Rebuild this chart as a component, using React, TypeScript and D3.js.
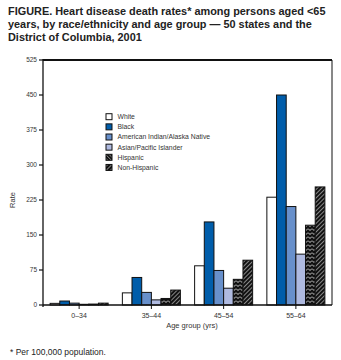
import React from "react";
import * as d3 from "d3";

const categories = ["0–34", "35–44", "45–54", "55–64"];
const seriesNames = ["White", "Black", "American Indian/Alaska Native", "Asian/Pacific Islander", "Hispanic", "Non-Hispanic"];
const white = [3.5, 26, 84, 231];
const black = [8.5, 59, 178, 450];
const aian = [4, 27, 74, 211];
const api = [1.5, 11, 36, 109];
const hispanic = [2, 14, 55, 171];
const nonHispanic = [4, 32, 96, 253];
const yTicks = [0, 75, 150, 225, 300, 375, 450, 525];
const titleLines = [
  "FIGURE. Heart disease death rates* among persons aged <65",
  "years, by race/ethnicity and age group — 50 states and the",
  "District of Columbia, 2001",
];

const seriesValues = [white, black, aian, api, hispanic, nonHispanic];
const fills = ["#ffffff", "#005DAA", "#6890CB", "#AFBAE0", "url(#hisp)", "url(#nonhisp)"];

export default function App() {
  const W = 341, H = 360;
  const left = 43, right = 332, top = 60, bottom = 305;
  const x = d3.scaleBand<string>().domain(categories).range([left, right]).paddingInner(0.197).paddingOuter(0.0985);
  const xs = d3.scaleBand<number>().domain(d3.range(seriesNames.length)).range([0, x.bandwidth()]);
  const y = d3.scaleLinear().domain([0, 525]).range([bottom, top]);
  const font = "'Liberation Sans', Arial, sans-serif";
  const legX = 106, legY0 = 116.7, legStep = 10.15;

  return (
    <svg width={W} height={H} style={{ display: "block", position: "absolute", left: 0, top: 0 }} fontFamily={font}>
      <defs>
        <pattern id="hisp" patternUnits="userSpaceOnUse" width="4" height="4">
          <rect width="4" height="4" fill="#111" />
          <path d="M0,0.5 L2,2.5 L4,0.5" stroke="#fff" strokeWidth="0.8" fill="none" />
        </pattern>
        <pattern id="nonhisp" patternUnits="userSpaceOnUse" width="3" height="3" patternTransform="rotate(45)">
          <rect width="3" height="3" fill="#111" />
          <line x1="0" y1="0" x2="0" y2="3" stroke="#fff" strokeWidth="1" />
        </pattern>
        <pattern id="hispLeg" patternUnits="userSpaceOnUse" width="2.5" height="2.5" patternTransform="rotate(-45)">
          <rect width="2.5" height="2.5" fill="#111" />
          <line x1="0" y1="0" x2="0" y2="2.5" stroke="#fff" strokeWidth="0.8" />
        </pattern>
      </defs>
      <rect width={W} height={H} fill="#fff" />
      {titleLines.map((t, i) => (
        <text key={i} x={8} y={14.5 + i * 13} fontSize={10.9} fontWeight="bold" fill="#222">{t}</text>
      ))}

      {/* bars */}
      {categories.map((c, ci) => (
        <g key={c}>
          {seriesValues.map((vals, si) => (
            <rect key={si}
              x={(x(c) as number) + (xs(si) as number)}
              y={y(vals[ci])}
              width={xs.bandwidth()}
              height={bottom - y(vals[ci])}
              fill={fills[si]}
              stroke="#111" strokeWidth={1} />
          ))}
        </g>
      ))}

      {/* frame */}
      <line x1={left} x2={right} y1={top} y2={top} stroke="#111" strokeWidth={2} />
      <line x1={right} x2={right} y1={top} y2={bottom} stroke="#111" strokeWidth={1} />
      <line x1={left} x2={left} y1={top - 1} y2={bottom + 2} stroke="#111" strokeWidth={1.3} />
      <line x1={left} x2={right} y1={bottom} y2={bottom} stroke="#111" strokeWidth={1.5} />

      {/* y ticks */}
      {yTicks.map((t) => (
        <g key={t}>
          <line x1={left - 4} x2={left} y1={y(t)} y2={y(t)} stroke="#111" strokeWidth={1.2} />
          <text x={left - 6} y={y(t)} dy="0.35em" fontSize={6.5} textAnchor="end" fill="#333">{t}</text>
        </g>
      ))}
      {/* x ticks */}
      {categories.map((c) => {
        const cx = (x(c) as number) + x.bandwidth() / 2;
        return (
          <g key={c}>
            <line x1={cx} x2={cx} y1={bottom} y2={bottom + 4} stroke="#111" strokeWidth={1} />
            <text x={cx} y={318} fontSize={7} textAnchor="middle" fill="#333">{c}</text>
          </g>
        );
      })}

      <text transform={`translate(15,200) rotate(-90)`} fontSize={7.5} textAnchor="middle" fill="#333">Rate</text>
      <text x={192} y={328} fontSize={7.5} textAnchor="middle" fill="#333">Age group (yrs)</text>

      {/* legend */}
      {seriesNames.map((n, i) => (
        <g key={n}>
          <rect x={legX} y={legY0 + i * legStep - 3} width={6} height={6}
            fill={i === 4 ? "url(#hispLeg)" : fills[i]} stroke="#111" strokeWidth={1} />
          <text x={117.5} y={legY0 + i * legStep} dy="0.35em" fontSize={6.8} fill="#333">{n}</text>
        </g>
      ))}

      <text x={10} y={355} fontSize={8.5} fill="#222">* Per 100,000 population.</text>
    </svg>
  );
}
